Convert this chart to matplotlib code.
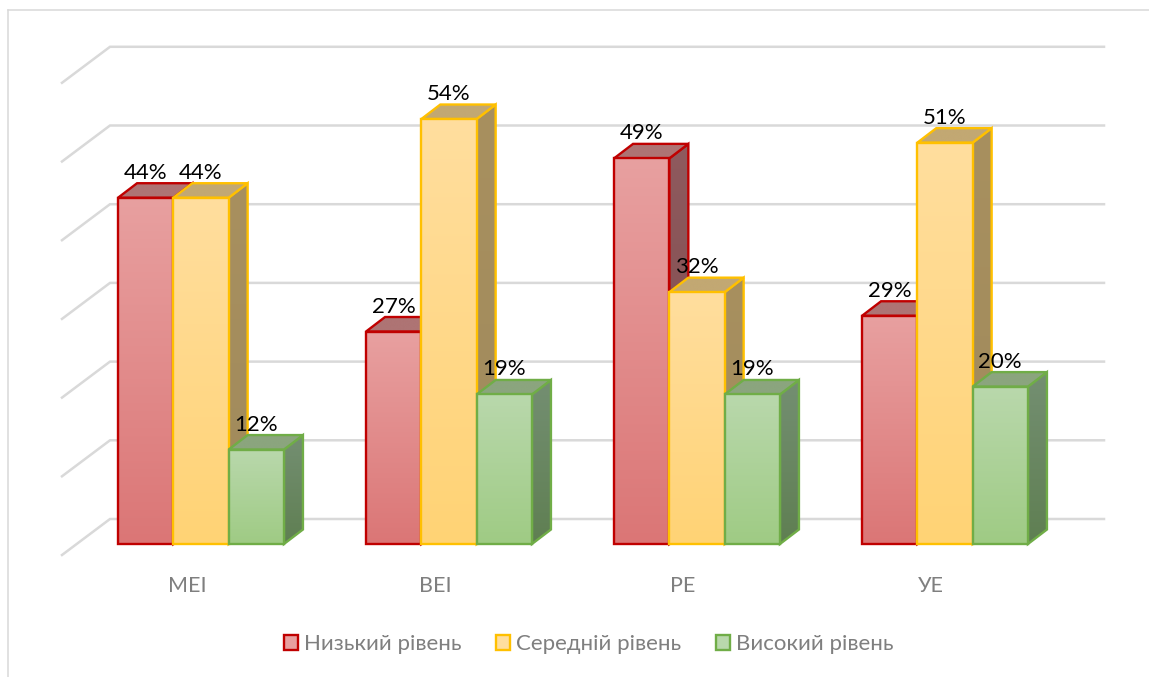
import numpy as np
import matplotlib
matplotlib.use("Agg")
import matplotlib.pyplot as plt
from matplotlib.colors import to_rgb
from matplotlib.lines import Line2D
from matplotlib.patches import Patch, Polygon

categories = ["МЕІ", "ВЕІ", "РЕ", "УЕ"]
series_names = ["Низький рівень", "Середній рівень", "Високий рівень"]
low_values = [44, 27, 49, 29]
mid_values = [44, 54, 32, 51]
high_values = [12, 19, 19, 20]
grid_values = [0, 10, 20, 30, 40, 50, 60]

FONT = ["Lato", "Open Sans", "DejaVu Sans"]
plt.rcParams["font.family"] = FONT

W, H = 1149, 677
PX_PER_PCT = 7.87
PX_PER_CAT = 248.0
BASE_PX = 544.0
X0_PX = 201.0

fig = plt.figure(figsize=(W / 100, H / 100), dpi=100, facecolor="white")
ax = fig.add_axes([0, (H - BASE_PX) / H, 1, BASE_PX / H])
ax.patch.set_alpha(0)
for s in ax.spines.values():
    s.set_visible(False)


def dx(px):
    return px / PX_PER_CAT


def dy(px):
    return px / PX_PER_PCT


xlim = (-X0_PX / PX_PER_CAT, (W - X0_PX) / PX_PER_CAT)
ylim = (0, BASE_PX / PX_PER_PCT)

# chart border
for xs, ys in [((8, W), (10, 10)), ((8, 8), (10, H))]:
    fig.add_artist(Line2D([x / W for x in xs], [1 - y / H for y in ys],
                          color="#D9D9D9", lw=1.1))

# gridlines: front-left diagonal, then the back wall
wall_left = xlim[0] + dx(110)
wall_right = xlim[0] + dx(1104)
for v in grid_values:
    yb = v + dy(25)
    ax.plot([wall_left - dx(48), wall_left, wall_right],
            [yb - dy(36), yb, yb], color="#D9D9D9", lw=1.8,
            solid_joinstyle="miter", clip_on=False, zorder=1)

styles = [
    dict(top="#E8A0A0", bottom="#DB7676", edge="#C00000",
         side=("#8F5A5E", "#7E4A4A"), cap="#AE7474"),
    dict(top="#FFDE9E", bottom="#FFD375", edge="#FFC000",
         side=("#A8905F", "#A08A5C"), cap="#C2A873"),
    dict(top="#B9D8AC", bottom="#9FCB84", edge="#70AD47",
         side=("#748F72", "#5F7F52"), cap="#8BA57E"),
]
series = [low_values, mid_values, high_values]
bar_w = 55.3 / PX_PER_CAT
ddx, ddy = dx(19), dy(14.5)
z = 2


def face(pts, c_top, c_bottom, edge):
    global z
    pts = np.array(pts)
    t = np.linspace(0, 1, 128)[:, None, None]
    grad = (1 - t) * np.array(to_rgb(c_top))[None, None, :] + t * np.array(to_rgb(c_bottom))[None, None, :]
    im = ax.imshow(grad, extent=(pts[:, 0].min(), pts[:, 0].max(),
                                 pts[:, 1].min(), pts[:, 1].max()),
                   origin="upper", aspect="auto", interpolation="bilinear",
                   zorder=z)
    clip = Polygon(pts, closed=True, transform=ax.transData)
    im.set_clip_path(clip)
    ax.add_patch(Polygon(pts, closed=True, facecolor="none", edgecolor=edge,
                         lw=1.7, joinstyle="miter", zorder=z + 0.1, clip_on=False))
    z += 1


for g in range(len(categories)):
    for k, vals in enumerate(series):
        st = styles[k]
        v = vals[g]
        x0 = g + (k - 1.5) * bar_w
        x1 = x0 + bar_w
        face([(x1, 0), (x1 + ddx, ddy), (x1 + ddx, v + ddy), (x1, v)],
             st["side"][0], st["side"][1], st["edge"])
        face([(x0, v), (x1, v), (x1 + ddx, v + ddy), (x0 + ddx, v + ddy)],
             st["cap"], st["cap"], st["edge"])
        face([(x0, 0), (x1, 0), (x1, v), (x0, v)],
             st["top"], st["bottom"], st["edge"])

for g in range(len(categories)):
    for k, vals in enumerate(series):
        v = vals[g]
        ax.text(g + (k - 1) * bar_w, v + dy(25), f"{v}%", ha="center",
                va="center", fontsize=16, color="black", zorder=500)

ax.set_xlim(*xlim)
ax.set_ylim(*ylim)
ax.set_yticks([])
ax.set_xticks([g - dx(14) for g in range(len(categories))])
ax.set_xticklabels(categories, fontsize=15.5, color="#7F7F7F")
ax.tick_params(axis="x", length=0, pad=23)

handles = [Patch(facecolor=s["top"], edgecolor=s["edge"], lw=1.7) for s in styles]
leg = fig.legend(handles, series_names, ncols=3, frameon=False,
                 loc="center", bbox_to_anchor=(588.5 / W, 1 - 644 / H),
                 fontsize=16, labelcolor="#7F7F7F", handlelength=0.65,
                 handleheight=0.65, handletextpad=0.25, columnspacing=1.55)

fig.savefig("out.png", dpi=100, facecolor="white")
